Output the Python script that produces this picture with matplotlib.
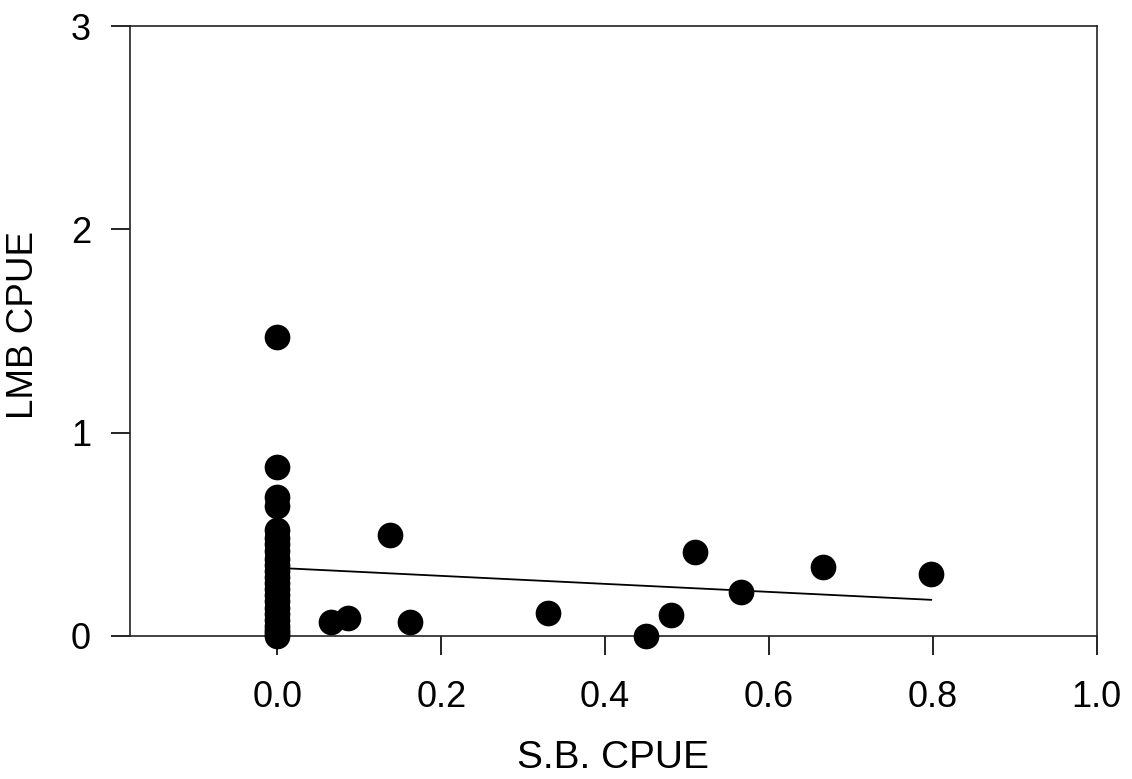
import matplotlib.pyplot as plt
import numpy as np

plt.rcParams['font.family'] = ['Liberation Sans', 'DejaVu Sans']

# S.B. CPUE (x) vs LMB CPUE (y)
sb_cpue = [0.0, 0.0, 0.0, 0.0, 0.0, 0.0, 0.0, 0.0, 0.0, 0.0, 0.0, 0.0,
           0.0, 0.0, 0.0, 0.0, 0.0, 0.0, 0.0, 0.0, 0.0, 0.0, 0.0,
           0.065, 0.086, 0.137, 0.162, 0.330, 0.450, 0.481, 0.510,
           0.566, 0.666, 0.798]
lmb_cpue = [1.47, 0.83, 0.685, 0.64, 0.52, 0.48, 0.45, 0.42, 0.38, 0.35,
            0.32, 0.29, 0.26, 0.23, 0.20, 0.17, 0.14, 0.11, 0.08, 0.05,
            0.03, 0.015, 0.0,
            0.070, 0.090, 0.497, 0.070, 0.112, 0.0, 0.103, 0.415,
            0.217, 0.341, 0.305]

# regression line
fit_x = [0.0, 0.798]
intercept = 0.335
slope = -0.197

fig = plt.figure(figsize=(11.32, 7.79), dpi=100)
ax = fig.add_axes([0.1148, 0.1836, 0.854, 0.7830])

fit_y = [intercept + slope * v for v in fit_x]
ax.plot(fit_x, fit_y, color='black', lw=1.3, zorder=2)
ax.plot(sb_cpue, lmb_cpue, 'o', color='black', markersize=18.5,
        markeredgewidth=0, clip_on=False, zorder=3)

ax.set_xlim(-0.18, 1.0)
ax.set_ylim(0, 3)
ax.set_xticks([0.0, 0.2, 0.4, 0.6, 0.8, 1.0])
ax.set_xticklabels(['0.0', '0.2', '0.4', '0.6', '0.8', '1.0'])
ax.set_yticks([0, 1, 2, 3])
ax.set_yticklabels(['0', '1', '2', '3'])

ax.tick_params(axis='both', direction='out', length=14, width=1.2,
               labelsize=26, colors='black')
ax.tick_params(axis='x', pad=18)
ax.tick_params(axis='y', pad=14)

for s in ax.spines.values():
    s.set_linewidth(1.2)
    s.set_color('#222222')

ax.set_xlabel('S.B. CPUE', fontsize=28, labelpad=18)
ax.set_ylabel('LMB CPUE', fontsize=26.5, labelpad=18)
ax.yaxis.set_label_coords(-0.092, 0.51)

fig.savefig('out.png', dpi=100)
